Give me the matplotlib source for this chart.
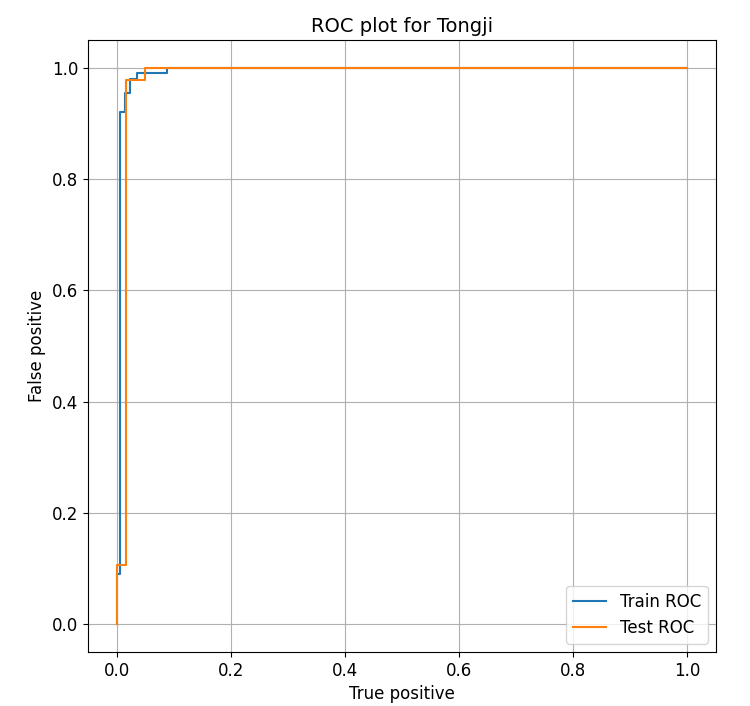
import matplotlib
matplotlib.use("Agg")
import matplotlib.pyplot as plt

train_fpr = [0.0, 0.0, 0.0065, 0.0065, 0.014, 0.014, 0.024, 0.024, 0.036, 0.036, 0.089, 0.089, 1.0]
train_tpr = [0.0, 0.09, 0.09, 0.92, 0.92, 0.954, 0.954, 0.98, 0.98, 0.99, 0.99, 1.0, 1.0]
test_fpr = [0.0, 0.0, 0.017, 0.017, 0.049, 0.049, 1.0]
test_tpr = [0.0, 0.106, 0.106, 0.978, 0.978, 1.0, 1.0]

plt.rcParams['font.size'] = 12
fig = plt.figure(figsize=(7.5, 7.06), dpi=100)
ax = fig.add_axes([88/750, 1-652/706, 628/750, 612/706])
ax.plot(train_fpr, train_tpr, label="Train ROC", color="#1f77b4")
ax.plot(test_fpr, test_tpr, label="Test ROC", color="#ff7f0e")
ax.set_title("ROC plot for Tongji", fontsize=14)
ax.set_xlabel("True positive")
ax.set_ylabel("False positive")
ax.grid(True)
ax.legend(loc="lower right")
fig.savefig("out.png")
